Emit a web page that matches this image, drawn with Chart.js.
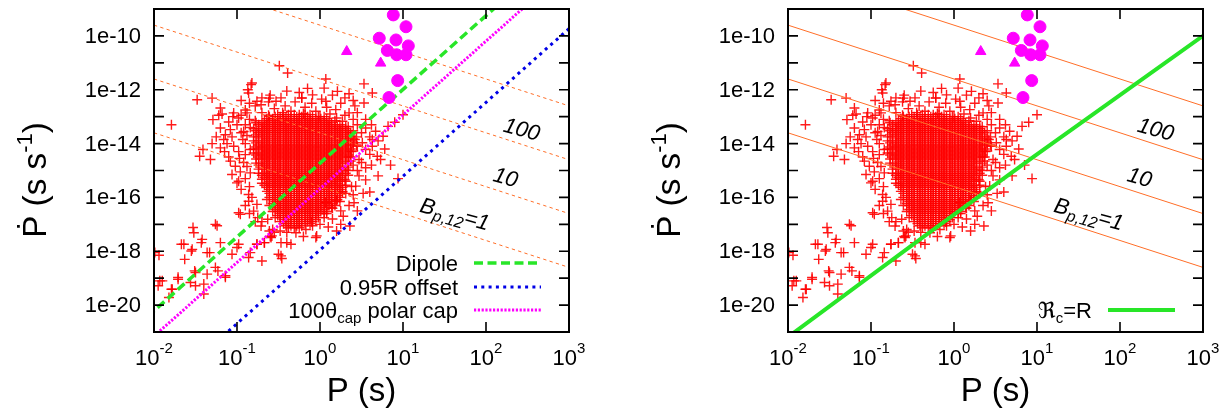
<!DOCTYPE html>
<html>
<head>
<meta charset="utf-8">
<script src="https://cdn.jsdelivr.net/npm/chart.js@4.4.1/dist/chart.umd.min.js"></script>
<style>
html, body { margin: 0; padding: 0; background: #fff; overflow: hidden; width: 1223px; height: 409px; }
canvas { position: absolute; top: 0; }
#left { left: 0; }
#right { left: 634px; }
</style>
</head>
<body>
<canvas id="left" width="611" height="409"></canvas>
<canvas id="right" width="589" height="409"></canvas>
<script>
// axis ticks (log10 values)
const xTickExps = [-2, -1, 0, 1, 2, 3];
const yTickExps = [-20, -19, -18, -17, -16, -15, -14, -13, -12, -11, -10];
const yLabelExps = [-10, -12, -14, -16, -18, -20];
const yTickLabels = ['1e-10', '1e-12', '1e-14', '1e-16', '1e-18', '1e-20'];

// pulsars, log10 P / log10 Pdot
// the dense core: two staggered column sets, and per Pdot row the P range it covers
const coreColsA = [-0.8,-0.74,-0.67,-0.61,-0.54,-0.48,-0.41,-0.35,-0.28,-0.22,-0.15,-0.09,-0.02,0.05,0.11,0.18,0.24,0.31,0.37,0.44];
const coreColsB = [-0.77,-0.7,-0.64,-0.57,-0.51,-0.44,-0.38,-0.31,-0.25,-0.18,-0.12,-0.05,0.01,0.08,0.14,0.21,0.27,0.34,0.4];
const coreRows = [
  [-12.925,'B',-0.51,-0.12], [-13.0,'A',-0.61,0.05], [-13.075,'B',-0.64,0.08], [-13.15,'A',-0.67,0.18],
  [-13.225,'B',-0.77,0.14], [-13.3,'A',-0.74,0.24], [-13.375,'B',-0.7,0.34], [-13.45,'A',-0.8,0.31],
  [-13.525,'B',-0.77,0.4], [-13.6,'A',-0.74,0.37], [-13.675,'B',-0.77,0.34], [-13.75,'A',-0.8,0.44],
  [-13.825,'B',-0.7,0.4], [-13.9,'A',-0.8,0.37], [-13.975,'B',-0.77,0.4], [-14.05,'A',-0.74,0.44],
  [-14.125,'B',-0.77,0.34], [-14.2,'A',-0.8,0.37], [-14.275,'B',-0.7,0.4], [-14.35,'A',-0.8,0.31],
  [-14.425,'B',-0.77,0.34], [-14.5,'A',-0.74,0.37], [-14.575,'B',-0.77,0.27], [-14.65,'A',-0.67,0.37],
  [-14.725,'B',-0.77,0.34], [-14.8,'A',-0.74,0.24], [-14.875,'B',-0.7,0.34], [-14.95,'A',-0.74,0.31],
  [-15.025,'B',-0.64,0.27], [-15.1,'A',-0.74,0.31], [-15.175,'B',-0.7,0.34], [-15.25,'A',-0.67,0.24],
  [-15.325,'B',-0.7,0.27], [-15.4,'A',-0.61,0.31], [-15.475,'B',-0.7,0.21], [-15.55,'A',-0.67,0.31],
  [-15.625,'B',-0.64,0.27], [-15.7,'A',-0.61,0.24], [-15.775,'B',-0.64,0.27], [-15.85,'A',-0.61,0.31],
  [-15.925,'B',-0.57,0.21], [-16.0,'A',-0.61,0.24], [-16.075,'B',-0.64,0.21], [-16.15,'A',-0.54,0.24],
  [-16.225,'B',-0.57,0.14], [-16.3,'A',-0.61,0.18], [-16.375,'B',-0.51,0.14], [-16.45,'A',-0.54,0.05],
  [-16.525,'B',-0.57,0.08], [-16.6,'A',-0.48,0.05], [-16.675,'B',-0.51,-0.05], [-16.75,'A',-0.54,0.05],
  [-16.825,'B',-0.44,-0.05], [-16.9,'A',-0.48,-0.09], [-16.975,'B',-0.44,-0.12], [-17.05,'A',-0.41,-0.22],
  [-17.125,'B',-0.38,-0.25]
];

// looser points around the core, [log10 P, log10 Pdot]
const haloPulsars = [
  [-0.9,-12.75],[-0.78,-12.6],[-0.7,-12.85],[-0.62,-12.45],[-0.55,-12.7],[-0.47,-12.3],[-0.42,-12.6],[-0.35,-12.8],
  [-0.3,-12.45],[-0.22,-12.3],[-0.18,-12.65],[-0.1,-12.5],[-0.05,-12.8],[0.02,-12.35],[0.08,-12.65],[0.12,-12.9],
  [0.19,-12.74],[0.25,-12.5],[0.3,-12.95],[0.35,-12.86],[0.42,-12.6],[-0.6,-12.2],[-0.25,-12.1],[0.15,-12.2],
  [0.27,-13.17],[0.31,-13.36],[0.4,-13.1],[0.45,-13.3],[0.55,-13.42],[0.5,-13.6],[0.67,-13.54],[0.6,-13.75],
  [0.76,-13.73],[0.63,-13.85],[0.51,-13.97],[0.42,-13.85],[0.45,-14.1],[0.55,-14.22],[0.38,-14.3],[0.63,-14.1],
  [0.69,-14.47],[0.73,-14.59],[0.47,-14.59],[0.35,-14.5],[0.4,-14.8],[0.55,-14.9],[0.34,-15.0],[0.47,-15.2],
  [0.3,-15.35],[0.38,-15.6],[0.27,-15.8],[0.43,-15.58],[0.52,-15.85],[0.41,-16.2],[0.2,-16.1],[0.15,-16.4],
  [0.25,-16.5],[0.07,-16.2],[0.08,-16.6],
  [-0.05,-17.49],[-0.1,-16.9],[0.0,-17.0],[-0.17,-17.19],[-0.29,-17.31],[-0.09,-17.05],[-0.35,-17.74],[-0.47,-18.17],
  [-0.46,-18.27],[-0.47,-17.68],[-0.57,-17.19],[-0.6,-17.45],[-0.63,-16.81],[-0.59,-17.49],[-0.61,-17.25],[-0.71,-17.06],
  [-0.67,-17.68],[-0.76,-17.74],[-0.55,-17.3],[-0.4,-17.3],[-0.2,-17.45],[0.2,-17.25],[0.36,-17.06],[-0.04,-17.43],
  [-0.4,-17.68],[-0.48,-17.25],[-0.58,-17.43],[-0.5,-18.11],[-0.7,-18.36],[-0.84,-18.05],[-0.86,-18.23],
  [-0.86,-15.89],[-0.86,-16.14],[-0.76,-16.26],[-0.8,-16.51],[-0.98,-16.57],[-0.96,-16.63],[-1.06,-15.15],[-0.98,-15.4],
  [-0.84,-15.09],[-1.0,-15.46],[-0.9,-14.41],[-0.84,-14.22],[-1.02,-14.84],[-0.93,-13.85],[-1.04,-14.1],[-0.88,-12.86],
  [-0.98,-13.05],[-1.04,-12.86],[-1.08,-13.48],[-1.14,-13.67],[-1.16,-13.85],[-1.2,-13.42],[-1.2,-14.16],[-0.9,-13.3],
  [-0.95,-13.6],[-0.92,-14.7],[-0.95,-15.7],[-0.9,-16.3],[-0.75,-16.75],[-0.7,-16.9],[-1.1,-14.5],[-0.85,-13.1],
  [-1.18,-12.9],[-1.1,-13.2],[-1.05,-13.0],[-1.0,-13.3],[-0.95,-12.95],[-0.92,-13.55],[-1.12,-14.0],[-1.06,-13.75],
  [-0.98,-14.3],[-0.9,-14.0],[-1.15,-14.3],[-1.08,-14.65],[-0.97,-14.55],[-0.88,-14.85],[-0.96,-15.05],[-0.9,-15.3],
  [-0.85,-15.6],[-0.82,-16.0],[-0.85,-16.6],[-0.78,-16.9],[-1.25,-13.75],[-1.3,-14.0],[-1.22,-12.95],[-0.85,-12.5],
  [-0.95,-12.4],[-0.7,-12.3],[-0.4,-12.05],[-0.15,-11.95],[0.3,-12.3],[0.4,-12.4],[0.35,-12.15],[0.45,-12.85],
  [0.55,-13.1],[0.62,-13.3],[0.7,-13.9],[0.78,-14.2],[0.6,-14.4],[0.5,-14.7],[0.62,-14.8],[0.45,-15.0],
  [0.55,-15.35],[0.4,-15.9],[0.35,-16.3],[0.28,-16.7],[0.15,-16.8],[0.1,-17.1],[0.25,-17.0],[0.45,-16.5],
  [0.6,-15.8],[0.7,-15.2],[0.85,-14.8],
  [-0.45,-12.85],[-0.2,-12.88],[0.0,-13.0],[0.2,-13.05],[-0.62,-12.95],[-0.78,-13.15],[-0.84,-13.4],[-0.88,-13.7]
];

// isolated pulsars
const outerPulsars = [
  [-1.29,-13.11],[-1.2,-12.68],[-1.3,-12.31],[-1.48,-12.37],[-1.79,-13.3],[-1.41,-14.22],[-1.45,-14.47],[-1.32,-14.59],
  [-0.83,-11.81],[-0.86,-12.12],[-0.76,-12.43],[-0.71,-12.56],[-0.82,-11.75],[-0.87,-12.0],[-0.49,-11.11],[-0.39,-11.38],
  [0.07,-11.6],[0.05,-11.94],[0.21,-12.06],[0.53,-11.78],[0.63,-12.12],[0.53,-12.49],[-0.09,-12.19],[-0.22,-12.31],
  [0.07,-12.43],[-0.53,-12.43],[-0.61,-12.31],[1.0,-12.93],[0.9,-13.21],[0.82,-13.36],[0.94,-15.3],
  [-0.98,-17.74],[-1.06,-18.11],[-1.0,-17.86],[-0.76,-17.74],[-0.67,-17.68],[-1.14,-18.97],
  [-1.94,-18.15],[-1.9,-19.1],[-1.95,-19.28],[-1.82,-19.72],[-1.78,-19.41],[-1.71,-18.97],[-1.64,-17.74],[-1.63,-18.3],
  [-1.54,-17.93],[-1.53,-17.12],[-1.52,-17.31],[-1.42,-17.56],[-1.36,-18.05],[-1.26,-17.0],[-1.24,-17.05],[-1.2,-17.68],
  [-1.26,-18.6],[-1.36,-18.85],[-1.5,-18.79],[-1.56,-19.16],[-1.5,-19.28],[-1.4,-19.22],[-1.4,-19.59],[-1.55,-17.99],
  [-1.43,-17.68],[-1.33,-18.05],[-1.23,-18.73],[-1.14,-18.91],[-1.51,-18.73],[-1.93,-19.1],[-1.79,-19.41],[-1.67,-17.74],
  [-1.99,-18.05],[-1.71,-19.04]
];

// magnetars / high-B objects
const magentaCircles = [
  [0.883,-9.22],[1.036,-9.66],[0.714,-10.085],[0.916,-10.15],[1.064,-10.37],
  [0.811,-10.54],[0.924,-10.7],[1.036,-10.7],[0.936,-11.66],[0.831,-12.29]
];
const magentaTriangles = [[0.322,-10.58],[0.731,-11.01]];

// constant-field lines B_p,12 = 1000, 100, 10, 1
const bLine1000 = [[-2, -7.6], [3, -12.6]];
const bLine100 = [[-2, -9.6], [3, -14.6]];
const bLine10 = [[-2, -11.6], [3, -16.6]];
const bLine1 = [[-2, -13.6], [3, -18.6]];

// death lines
const dipoleLine = [[-2.2, -20.76], [2.4, -8.15]];
const offsetLine = [[-1.3, -21.51], [3.0, -9.73]];
const capLine = [[-2.1, -21.43], [2.6, -8.55]];
const rcLine = [[-2.05, -21.3], [-0.41, -17.56], [0.94, -14.53], [3.0, -10.0]];

const FONT = '"Liberation Sans", Arial, "DejaVu Sans", sans-serif';
const ORANGE = 'rgb(255,110,40)';
const RED = 'rgba(255,0,0,0.9)';
const MAGENTA = '#ff00ff';
const GREEN = 'rgb(40,230,40)';

function toXY(arr) {
  return arr.map(p => ({ x: Math.pow(10, p[0]), y: Math.pow(10, p[1]) }));
}

const corePoints = [];
coreRows.forEach(r => {
  const cols = r[1] === 'A' ? coreColsA : coreColsB;
  cols.filter(v => v >= r[2] - 0.001 && v <= r[3] + 0.001).forEach(lp => corePoints.push([lp, r[0]]));
});
const pulsarPoints = toXY(corePoints.concat(haloPulsars, outerPulsars));

function setFont(ctx, p) {
  ctx.font = (p.it ? 'italic ' : '') + p.s + 'px ' + FONT;
}
function partsWidth(ctx, parts) {
  let w = 0;
  parts.forEach(p => { setFont(ctx, p); w += ctx.measureText(p.t).width; });
  return w;
}
function drawParts(ctx, parts, x, y, align) {
  const w = partsWidth(ctx, parts);
  let cx = align === 'right' ? x - w : align === 'center' ? x - w / 2 : x;
  ctx.textAlign = 'left';
  ctx.textBaseline = 'alphabetic';
  parts.forEach(p => {
    setFont(ctx, p);
    ctx.fillText(p.t, cx, y + (p.dy || 0));
    cx += ctx.measureText(p.t).width;
  });
}

const decor = {
  id: 'decor',
  afterDraw(chart, args, o) {
    const ctx = chart.ctx, a = chart.chartArea;
    const xs = chart.scales.x, ys = chart.scales.y;
    ctx.save();
    ctx.fillStyle = '#000';
    ctx.strokeStyle = '#000';

    // ticks on all four sides
    ctx.lineWidth = 1.6;
    ctx.beginPath();
    xTickExps.forEach(e => {
      const px = xs.getPixelForValue(Math.pow(10, e));
      ctx.moveTo(px, a.bottom); ctx.lineTo(px, a.bottom - 10);
      ctx.moveTo(px, a.top); ctx.lineTo(px, a.top + 10);
    });
    yTickExps.forEach(e => {
      const py = ys.getPixelForValue(Math.pow(10, e));
      ctx.moveTo(a.left, py); ctx.lineTo(a.left + 10, py);
      ctx.moveTo(a.right, py); ctx.lineTo(a.right - 10, py);
    });
    ctx.stroke();
    ctx.lineWidth = 2;
    ctx.strokeRect(a.left, a.top, a.right - a.left, a.bottom - a.top);

    // tick labels
    ctx.font = '22px ' + FONT;
    ctx.textAlign = 'right';
    ctx.textBaseline = 'middle';
    yLabelExps.forEach((e, i) => {
      ctx.fillText(yTickLabels[i], a.left - 13, ys.getPixelForValue(Math.pow(10, e)) + 1);
    });
    xTickExps.forEach(e => {
      const px = xs.getPixelForValue(Math.pow(10, e));
      drawParts(ctx, [{ t: '10', s: 22 }, { t: String(e), s: 15, dy: -12 }], px, a.bottom + 33, 'center');
    });

    // axis titles
    drawParts(ctx, [{ t: 'P (s)', s: 33 }], (a.left + a.right) / 2, a.bottom + 69, 'center');
    // y title, sized to the 116 px it spans in the figure
    let ys0 = 30;
    const yParts = s => [{ t: '\u1E56', s: s }, { t: ' (s s', s: s }, { t: '-1', s: Math.round(s * 0.66), dy: -Math.round(s * 0.42) }, { t: ')', s: s }];
    ys0 = ys0 * 116 / partsWidth(ctx, yParts(ys0));
    ctx.save();
    ctx.translate(a.left - 108, a.top + 171);
    ctx.rotate(-Math.PI / 2);
    drawParts(ctx, yParts(ys0), 0, 0, 'center');
    ctx.restore();

    // field line labels
    o.bLabels.forEach(l => {
      ctx.save();
      ctx.translate(xs.getPixelForValue(Math.pow(10, l.lp)), ys.getPixelForValue(Math.pow(10, l.lpd)));
      ctx.rotate(0.27);
      drawParts(ctx, l.parts, 0, 8, 'center');
      ctx.restore();
    });

    // legend
    o.legend.forEach(it => {
      const ry = a.top + it.y;
      ctx.fillStyle = '#000';
      drawParts(ctx, it.parts, a.left + 304, ry + 8, 'right');
      ctx.save();
      ctx.strokeStyle = it.color;
      ctx.lineWidth = it.width;
      ctx.setLineDash(it.dash);
      ctx.beginPath();
      ctx.moveTo(a.left + 320, ry);
      ctx.lineTo(a.left + 387, ry);
      ctx.stroke();
      ctx.restore();
    });
    ctx.restore();
  }
};

const bLabels = [
  { lp: 2.434, lpd: -13.44, parts: [{ t: '100', s: 22, it: true }] },
  { lp: 2.241, lpd: -15.22, parts: [{ t: '10', s: 22, it: true }] },
  { lp: 1.627, lpd: -16.59, parts: [{ t: 'B', s: 22, it: true }, { t: 'p,12', s: 16, it: true, dy: 5 }, { t: '=1', s: 22, it: true }] }
];

function lineSet(arr, color, width, dash, order) {
  return {
    data: toXY(arr), showLine: true, pointRadius: 0, borderColor: color,
    borderWidth: width, borderDash: dash, fill: false, clip: 0, order: order, tension: 0
  };
}

function baseSets(bDash) {
  return [
    { data: toXY(magentaCircles), pointStyle: 'circle', pointRadius: 6, backgroundColor: MAGENTA, borderColor: MAGENTA, borderWidth: 1, order: 0, clip: false },
    { data: toXY(magentaTriangles), pointStyle: 'triangle', pointRadius: 6, backgroundColor: MAGENTA, borderColor: MAGENTA, borderWidth: 1, order: 0, clip: false },
    lineSet(bLine1000, ORANGE, 1, bDash, 2),
    lineSet(bLine100, ORANGE, 1, bDash, 2),
    lineSet(bLine10, ORANGE, 1, bDash, 2),
    lineSet(bLine1, ORANGE, 1, bDash, 2),
    { data: pulsarPoints, pointStyle: 'cross', pointRadius: 5, borderColor: RED, borderWidth: 1.4, order: 5, clip: 0 }
  ];
}

function makeChart(id, sets, legend) {
  return new Chart(document.getElementById(id), {
    type: 'scatter',
    data: { datasets: sets },
    options: {
      responsive: false,
      animation: false,
      devicePixelRatio: 1,
      events: [],
      layout: { padding: { left: 154, top: 9, right: id === 'left' ? 42 : 20, bottom: 77 } },
      scales: {
        x: { type: 'logarithmic', min: 1e-2, max: 1e3, display: false },
        y: { type: 'logarithmic', min: 1e-21, max: 1e-9, display: false }
      },
      plugins: {
        legend: { display: false },
        tooltip: { enabled: false },
        decor: { bLabels: bLabels, legend: legend }
      }
    },
    plugins: [decor]
  });
}

const leftSets = baseSets([3.3, 3.3]).concat([
  lineSet(dipoleLine, GREEN, 3.5, [9, 4.5], 1),
  lineSet(offsetLine, '#0000e6', 3, [3, 4.3], 1),
  lineSet(capLine, MAGENTA, 3, [2.2, 1.6], 1)
]);
makeChart('left', leftSets, [
  { y: 254, parts: [{ t: 'Dipole', s: 22 }], color: GREEN, width: 3.5, dash: [9, 4.5] },
  { y: 278, parts: [{ t: '0.95R offset', s: 22 }], color: '#0000e6', width: 3, dash: [3, 4.3] },
  { y: 301, parts: [{ t: '100\u03B8', s: 22 }, { t: 'cap', s: 15, dy: 5 }, { t: ' polar cap', s: 22 }], color: MAGENTA, width: 3, dash: [2.2, 1.6] }
]);

const rightSets = baseSets([]).concat([
  lineSet(rcLine, GREEN, 4, [], 1)
]);
makeChart('right', rightSets, [
  { y: 301, parts: [{ t: '\u211C', s: 22 }, { t: 'c', s: 15, dy: 5 }, { t: '=R', s: 22 }], color: GREEN, width: 4, dash: [] }
]);
</script>
</body>
</html>
